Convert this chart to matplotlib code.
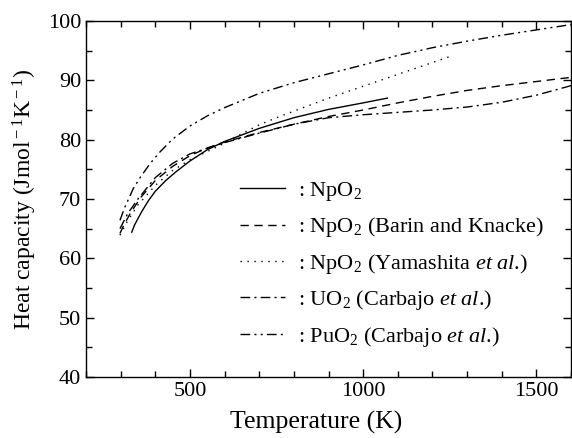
import matplotlib
matplotlib.use("Agg")
import matplotlib.pyplot as plt
from matplotlib.ticker import MultipleLocator

plt.rcParams['font.family'] = ['Liberation Serif', 'DejaVu Serif']
plt.rcParams['mathtext.fontset'] = 'custom'
plt.rcParams['mathtext.rm'] = 'Liberation Serif'
plt.rcParams['mathtext.it'] = 'Liberation Serif:italic'

# Data
T_np = [332, 340, 360, 380, 400, 430, 460, 500, 550, 600, 700, 800, 900, 1000, 1070]
cp_np = [64.4, 65.6, 67.8, 69.7, 71.3, 73.1, 74.6, 76.4, 78.3, 79.7, 81.9, 83.7, 85.1, 86.2, 87.0]

T_bk = [298, 310, 330, 360, 400, 450, 500, 550, 600, 700, 800, 900, 1000, 1100, 1200, 1300, 1400, 1500, 1600]
cp_bk = [64.2, 65.7, 67.8, 70.4, 73.1, 75.5, 77.3, 78.6, 79.6, 81.2, 82.6, 83.9, 85.0, 86.2, 87.3, 88.3, 89.1, 89.8, 90.5]

T_ya = [298, 320, 350, 400, 450, 500, 550, 600, 650, 700, 750, 800, 900, 1000, 1100, 1200, 1260]
cp_ya = [63.9, 66.3, 69.0, 72.3, 74.8, 76.6, 78.0, 79.4, 81.0, 82.5, 83.7, 84.8, 87.0, 89.0, 91.0, 93.0, 94.2]

T_uo = [298, 320, 350, 400, 450, 500, 600, 700, 800, 900, 1000, 1100, 1200, 1300, 1400, 1500, 1600]
cp_uo = [65.0, 67.5, 70.0, 73.6, 76.0, 77.6, 79.5, 81.1, 82.6, 83.7, 84.2, 84.6, 85.0, 85.5, 86.3, 87.5, 89.1]

T_pu = [298, 312, 336, 355, 384, 413, 450, 500, 550, 600, 700, 800, 900, 1000, 1100, 1200, 1300, 1400, 1500, 1600]
cp_pu = [66.4, 68.6, 71.7, 73.5, 75.9, 77.9, 80.1, 82.3, 84.0, 85.4, 87.8, 89.6, 91.1, 92.6, 94.2, 95.5, 96.6, 97.6, 98.5, 99.4]

labels = [
    r': NpO$_2$',
    r': NpO$_2$ (Barin and Knacke)',
    r': NpO$_2$ (Yamashita $\it{et\ al}$.)',
    r': UO$_2$ (Carbajo $\it{et\ al}$.)',
    r': PuO$_2$ (Carbajo $\it{et\ al}$.)',
]

fig = plt.figure(figsize=(5.72, 4.38), dpi=100)
ax = fig.add_axes([86/572, 61/438, 485/572, 356/438])

lw = 1.0
ax.plot(T_np, cp_np, color='black', lw=lw, linestyle='-', label=labels[0])
ax.plot(T_bk, cp_bk, color='black', lw=lw, linestyle=(0, (6, 4)), label=labels[1])
ax.plot(T_ya, cp_ya, color='black', lw=lw, linestyle=(0, (1, 4)), label=labels[2])
ax.plot(T_uo, cp_uo, color='black', lw=lw, linestyle=(0, (7, 3, 1.5, 3)), label=labels[3])
ax.plot(T_pu, cp_pu, color='black', lw=lw, linestyle=(0, (7, 3, 1.5, 3, 1.5, 3)), label=labels[4])

ax.set_xlim(200, 1600)
ax.set_ylim(40, 100)
ax.xaxis.set_major_locator(MultipleLocator(500))
ax.xaxis.set_minor_locator(MultipleLocator(100))
ax.yaxis.set_major_locator(MultipleLocator(10))
ax.yaxis.set_minor_locator(MultipleLocator(5))
ax.tick_params(which='both', direction='in', top=True, right=True, labelsize=16, width=1.0)
ax.tick_params(which='major', length=6)
ax.tick_params(which='minor', length=4)
for s in ax.spines.values():
    s.set_linewidth(1.0)

ax.set_xlabel('Temperature (K)', fontsize=18.5, labelpad=6)
ax.xaxis.set_label_coords((316 - 86) / 485, -0.094)
ax.set_ylabel(r'Heat capacity (Jmol$^{\rm -1}$K$^{\rm -1}$)', fontsize=17, labelpad=6)

leg = ax.legend(loc='upper left', bbox_to_anchor=((231 - 86) / 485, (377 - 171) / 356),
                frameon=False, fontsize=16, handlelength=2.05, handletextpad=0.55,
                labelspacing=0.56, borderaxespad=0)

fig.savefig('out.png', dpi=100)
